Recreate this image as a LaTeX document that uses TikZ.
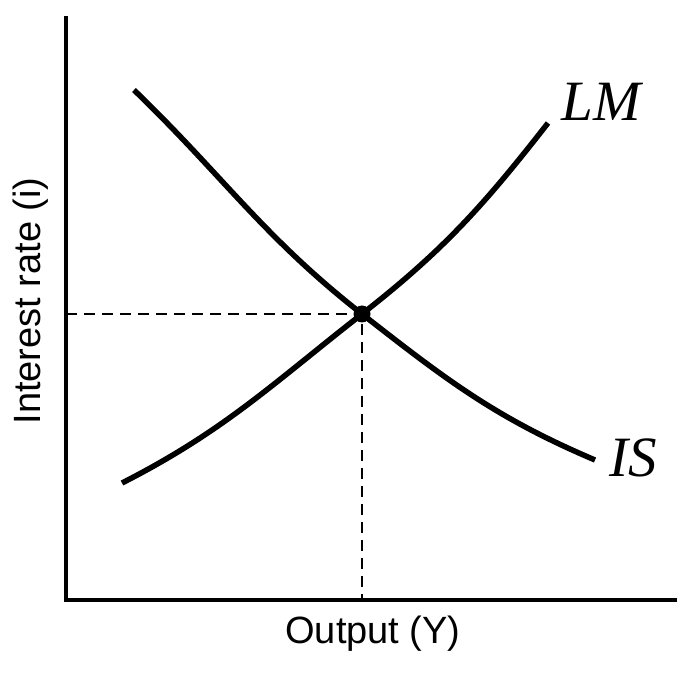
\documentclass[tikz,border=0pt]{standalone}
\usepackage{fontspec}
\setmainfont{Liberation Serif}
\setsansfont{Liberation Sans}
\usepackage{tikz}
\usetikzlibrary{positioning, calc}

\begin{document}
\begin{tikzpicture}[x=1pt, y=1pt,
    axis/.style={line width=4.5pt},
    curve/.style={line width=5.5pt},
    guide/.style={line width=1.8pt, dash pattern=on 11pt off 7pt},
    axlabel/.style={font=\sffamily\fontsize{38}{38}\selectfont},
    crvlabel/.style={font=\itshape\fontsize{57}{57}\selectfont}]

  \useasboundingbox (0,0) rectangle (700,672);

  \coordinate (top)    at (66,656);
  \coordinate (origin) at (66,72);
  \coordinate (right)  at (677,72);
  \coordinate (yaxis)  at (66,358);
  \coordinate (xaxis)  at (362,72);
  \coordinate (lmlo)   at (122,189);
  \coordinate (lmhi)   at (548,549);
  \coordinate (ishi)   at (134,582);
  \coordinate (islo)   at (595,212);

  \node[crvlabel] (lm) at (601,570) {LM};
  \node[crvlabel] (is) at (633,214) {IS};
  \node[axlabel] (out) at (373,38) {Output (Y)};
  \node[axlabel, rotate=90] (rate) at (31,371) {Interest rate (i)};

  \draw[axis] (top) -- (origin) -- (right);
  \draw[guide] (yaxis) -- (362,358) -- (xaxis);

  \draw[curve] (lmlo) to[out=27, in=218] (362,358) to[out=38, in=232] (lmhi);
  \draw[curve] (ishi) to[out=-44, in=142] (362,358) to[out=-38, in=157] (islo);

  % equilibrium point
  \node[circle, fill, inner sep=0pt, minimum size=17pt] (eq) at (362,358) {};
\end{tikzpicture}
\end{document}
